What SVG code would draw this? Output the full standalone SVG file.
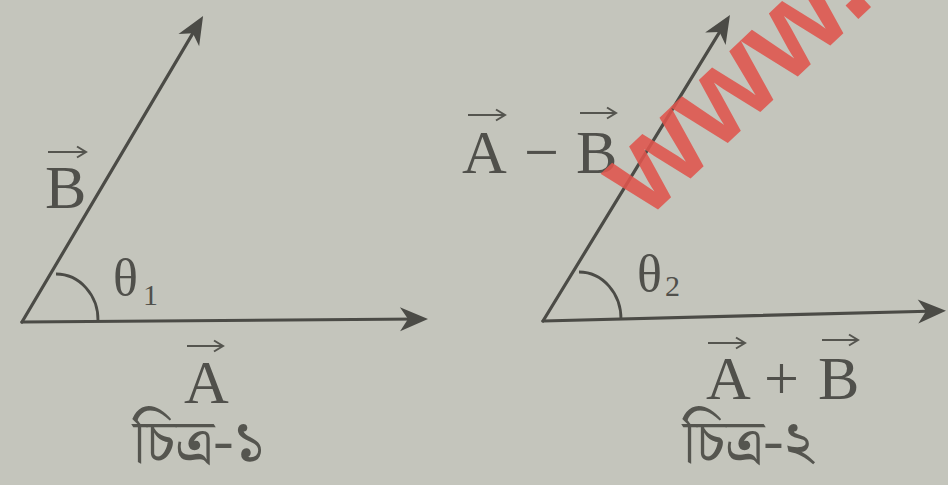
<svg xmlns="http://www.w3.org/2000/svg" width="948" height="485" viewBox="0 0 948 485">
<style>
.ln{stroke:#4b4b46;stroke-width:3.2;fill:none;stroke-linecap:round}
.arc{stroke:#4b4b46;stroke-width:2.8;fill:none}
.vec{stroke:#55554f;stroke-width:2.2;fill:none}
.lbl{font-family:"Liberation Serif","DejaVu Serif",serif;fill:#50504b}
.big{font-size:62px}
.th{font-size:52px}
.sub{font-size:30px}
.bn{font-family:"Noto Serif Bengali","Noto Sans Bengali","Lohit Bengali","FreeSerif","Noto Sans",sans-serif;font-size:61px;fill:#55554f}
.wm{font-family:"Liberation Sans","Arial",sans-serif;font-weight:bold;font-size:124px;fill:#e0554d;opacity:0.88}
</style>
<defs>
<marker id="head" markerUnits="userSpaceOnUse" markerWidth="34" markerHeight="28" viewBox="-30 -14 34 28" refX="-8" refY="0" orient="auto">
<path d="M0,0 L-28,-12 L-20,0 L-28,12 Z" fill="#4b4b46"/>
</marker>
<marker id="small" markerUnits="userSpaceOnUse" markerWidth="14" markerHeight="14" viewBox="-12 -7 14 14" refX="0" refY="0" orient="auto">
<path d="M-9,-5.5 L0,0 L-9,5.5" fill="none" stroke="#55554f" stroke-width="2"/>
</marker>
</defs>
<rect x="0" y="0" width="948" height="485" fill="#c4c5bc"/>

<g id="connectors">
<line class="ln" x1="22" y1="322" x2="420" y2="319" marker-end="url(#head)"/>
<line class="ln" x1="22" y1="322" x2="199" y2="22.9" marker-end="url(#head)"/>
<line class="ln" x1="543" y1="321" x2="938" y2="311" marker-end="url(#head)"/>
<line class="ln" x1="543" y1="321" x2="725.8" y2="21.8" marker-end="url(#head)"/>
</g>

<g id="fig1">
<path class="arc" d="M56,274 A42 46 0 0 1 98,321"/>
<text class="lbl th" x="113" y="295">θ</text>
<text class="lbl sub" x="143" y="305">1</text>
<g id="vecB1">
<line class="vec" x1="48" y1="152" x2="86" y2="152" marker-end="url(#small)"/>
<text class="lbl big" x="45" y="208">B</text>
</g>
<g id="vecA1">
<line class="vec" x1="187" y1="346" x2="223" y2="346" marker-end="url(#small)"/>
<text class="lbl big" x="184" y="403">A</text>
</g>
<text id="cap1" class="bn" x="133" y="462">চিত্র-১</text>
</g>

<g id="fig2">
<path class="arc" d="M579,272 A42 47 0 0 1 621,320"/>
<text class="lbl th" x="637" y="291">θ</text>
<text class="lbl sub" x="665" y="296">2</text>
<g id="diff">
<line class="vec" x1="468" y1="115" x2="505" y2="115" marker-end="url(#small)"/>
<line class="vec" x1="580" y1="113" x2="616" y2="113" marker-end="url(#small)"/>
<text class="lbl big" x="462" y="173">A</text>
<text class="lbl big" x="524" y="173">−</text>
<text class="lbl big" x="576" y="173">B</text>
</g>
<g id="sum">
<line class="vec" x1="708" y1="343" x2="745" y2="343" marker-end="url(#small)"/>
<line class="vec" x1="822" y1="340" x2="858" y2="340" marker-end="url(#small)"/>
<text class="lbl big" x="706" y="399">A</text>
<text class="lbl big" x="764" y="399">+</text>
<text class="lbl big" x="818" y="399">B</text>
</g>
<text id="cap2" class="bn" x="683" y="462">চিত্র-২</text>
</g>

<text class="wm" transform="translate(646,221) rotate(-43.6)">www.</text>
</svg>
